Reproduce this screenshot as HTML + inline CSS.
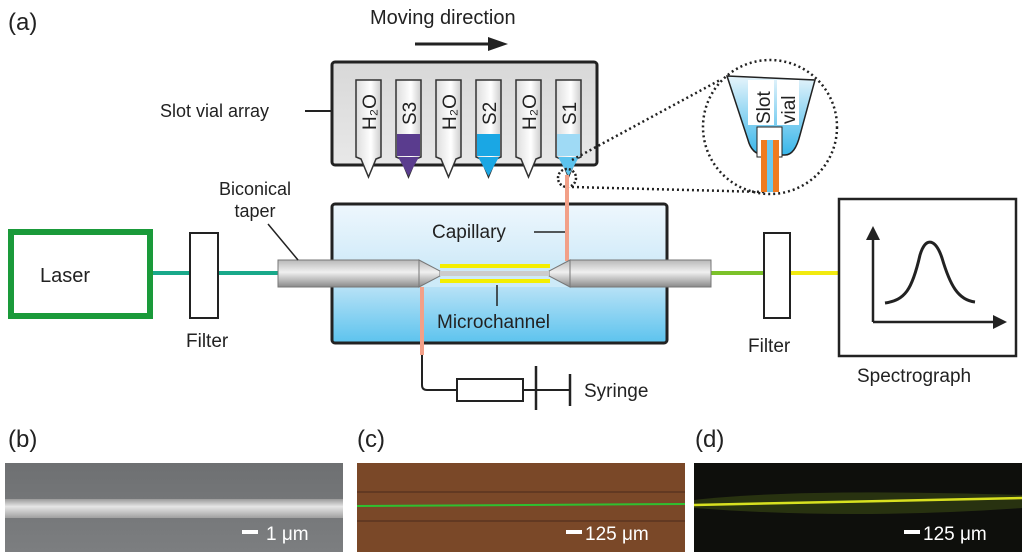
<!DOCTYPE html>
<html><head><meta charset="utf-8"><style>
html,body{margin:0;padding:0;background:#fff;}
svg{display:block;font-family:"Liberation Sans",sans-serif;}
</style></head><body>
<svg width="1024" height="558" viewBox="0 0 1024 558" xmlns="http://www.w3.org/2000/svg">
<defs>
<linearGradient id="gbox" x1="0" y1="0" x2="0" y2="1"><stop offset="0" stop-color="#eef7fd"/><stop offset="0.5" stop-color="#cde9f8"/><stop offset="1" stop-color="#5cc3ee"/></linearGradient>
<linearGradient id="gfib" x1="0" y1="0" x2="0" y2="1"><stop offset="0" stop-color="#b8b8b8"/><stop offset="0.45" stop-color="#f0f0f0"/><stop offset="1" stop-color="#8a8a8a"/></linearGradient>
<linearGradient id="gvial" x1="0" y1="0" x2="1" y2="0"><stop offset="0" stop-color="#ddd"/><stop offset="0.6" stop-color="#fff"/><stop offset="1" stop-color="#ccc"/></linearGradient>
<linearGradient id="gtray" x1="0" y1="0" x2="0" y2="1"><stop offset="0" stop-color="#d8d8d8"/><stop offset="1" stop-color="#e8e8e8"/></linearGradient>
<linearGradient id="gb" x1="0" y1="0" x2="0" y2="1"><stop offset="0" stop-color="#6e7072"/><stop offset="1" stop-color="#7c7e80"/></linearGradient>
<linearGradient id="gbar" x1="0" y1="0" x2="0" y2="1"><stop offset="0" stop-color="#9a9a9a"/><stop offset="0.4" stop-color="#e6e6e6"/><stop offset="1" stop-color="#a0a0a0"/></linearGradient>
<linearGradient id="gmag" x1="0" y1="0" x2="0" y2="1"><stop offset="0" stop-color="#e6f4fb"/><stop offset="1" stop-color="#38b6ea"/></linearGradient>
</defs>

<text x="8" y="30" font-size="24" fill="#222">(a)</text>
<text x="370" y="24" font-size="20" fill="#222">Moving direction</text>
<line x1="415" y1="44" x2="490" y2="44" stroke="#222" stroke-width="3"/>
<polygon points="508,44 488,37 488,51" fill="#222"/>

<!-- tray -->
<rect x="332" y="62" width="265" height="103" rx="3" fill="url(#gtray)" stroke="#222" stroke-width="3"/>
<text x="160" y="117" font-size="18" fill="#222">Slot vial array</text>
<line x1="305" y1="111" x2="333" y2="111" stroke="#222" stroke-width="2"/>

<g font-size="20" fill="#222">
<g id="v">
</g>
</g>
<!-- vials -->
<g stroke="#333" stroke-width="1.5">
<path d="M356,80h25v77l-5,2l-7.5,18l-7.5,-18l-5,-2z" fill="url(#gvial)"/>
<path d="M396,80h25v77l-5,2l-7.5,18l-7.5,-18l-5,-2z" fill="url(#gvial)"/>
<path d="M436,80h25v77l-5,2l-7.5,18l-7.5,-18l-5,-2z" fill="url(#gvial)"/>
<path d="M476,80h25v77l-5,2l-7.5,18l-7.5,-18l-5,-2z" fill="url(#gvial)"/>
<path d="M516,80h25v77l-5,2l-7.5,18l-7.5,-18l-5,-2z" fill="url(#gvial)"/>
<path d="M556,80h25v77l-5,2l-7.5,18l-7.5,-18l-5,-2z" fill="url(#gvial)"/>
</g>
<rect x="397" y="134" width="23" height="22" fill="#5a3c8e"/>
<polygon points="398,157 419,157 408.5,176" fill="#5a3c8e"/>
<rect x="477" y="134" width="23" height="22" fill="#1aa7e4"/>
<polygon points="478,157 499,157 488.5,176" fill="#1aa7e4"/>
<rect x="557" y="134" width="23" height="22" fill="#9fdaf5"/>
<polygon points="558,157 579,157 568.5,176" fill="#5cc3ee"/>
<g font-size="19" fill="#222">
<text transform="translate(376,130) rotate(-90)">H₂O</text>
<text transform="translate(416,125) rotate(-90)">S3</text>
<text transform="translate(456,130) rotate(-90)">H₂O</text>
<text transform="translate(496,125) rotate(-90)">S2</text>
<text transform="translate(536,130) rotate(-90)">H₂O</text>
<text transform="translate(576,125) rotate(-90)">S1</text>
</g>

<!-- magnifier -->
<circle cx="567" cy="178" r="9" fill="none" stroke="#222" stroke-width="2.5" stroke-dasharray="2,2"/>
<line x1="572" y1="160" x2="720" y2="80" stroke="#222" stroke-width="2.5" stroke-dasharray="2,3"/>
<line x1="572" y1="187" x2="765" y2="192" stroke="#222" stroke-width="2.5" stroke-dasharray="2,3"/>
<path d="M727,76 L815,80 L800,135 Q795,155 785,155 L765,155 Q752,155 748,140 Z" fill="url(#gmag)" stroke="#222" stroke-width="1.5"/>
<rect x="757" y="127" width="25" height="30" fill="#fff" stroke="#222" stroke-width="1"/>
<rect x="761" y="140" width="6" height="52" fill="#f07a1e"/>
<rect x="773" y="140" width="6" height="52" fill="#f07a1e"/>
<rect x="767" y="140" width="6" height="52" fill="#6cc8ee"/>
<circle cx="770" cy="127" r="67" fill="none" stroke="#222" stroke-width="2.5" stroke-dasharray="2,3"/>
<rect x="748" y="80" width="26" height="45" fill="#fff"/>
<rect x="777" y="80" width="22" height="45" fill="#fff"/>
<text transform="translate(770,124) rotate(-90)" font-size="19" fill="#222">Slot</text>
<text transform="translate(795,124) rotate(-90)" font-size="19" fill="#222">vial</text>

<!-- chip box -->
<rect x="332" y="204" width="335" height="139" rx="3" fill="url(#gbox)" stroke="#222" stroke-width="3"/>
<rect x="419" y="260" width="151" height="27" fill="#cdeaf8"/>
<!-- capillaries -->
<rect x="565" y="175" width="4" height="86" fill="#f2a088"/>
<rect x="420" y="287" width="4" height="68" fill="#f2a088"/>
<path d="M422,355 V385 Q422,390 427,390 H457" fill="none" stroke="#222" stroke-width="2"/>
<rect x="457" y="379" width="66" height="22" fill="#fff" stroke="#222" stroke-width="2"/>
<line x1="523" y1="379" x2="523" y2="401" stroke="#222" stroke-width="2"/>
<line x1="523" y1="390" x2="570" y2="390" stroke="#222" stroke-width="2"/>
<line x1="536" y1="366" x2="536" y2="410" stroke="#222" stroke-width="2.5"/>
<line x1="570" y1="374" x2="570" y2="406" stroke="#222" stroke-width="2.5"/>
<text x="584" y="397" font-size="19" fill="#222">Syringe</text>

<!-- fibers -->
<line x1="150" y1="273" x2="278" y2="273" stroke="#19a98a" stroke-width="4"/>
<line x1="711" y1="273" x2="764" y2="273" stroke="#7cc22a" stroke-width="4"/>
<line x1="790" y1="273" x2="838" y2="273" stroke="#f2ea10" stroke-width="4"/>
<rect x="278" y="260" width="141" height="27" fill="url(#gfib)" stroke="#777" stroke-width="1"/>
<rect x="570" y="260" width="141" height="27" fill="url(#gfib)" stroke="#777" stroke-width="1"/>
<polygon points="419,260 440,271 440,276 419,287" fill="url(#gfib)" stroke="#777"/>
<polygon points="570,260 549,271 549,276 570,287" fill="url(#gfib)" stroke="#777"/>
<rect x="440" y="271" width="109" height="5" fill="#ccc"/>
<rect x="440" y="264" width="110" height="4" fill="#f4ee00"/>
<rect x="440" y="279" width="110" height="4" fill="#f4ee00"/>
<text x="432" y="238" font-size="19" fill="#222">Capillary</text>
<line x1="534" y1="232" x2="565" y2="232" stroke="#222" stroke-width="1.5"/>
<line x1="497" y1="285" x2="497" y2="306" stroke="#222" stroke-width="1.5"/>
<text x="437" y="328" font-size="19" fill="#222">Microchannel</text>
<text x="255" y="195" font-size="18" fill="#222" text-anchor="middle">Biconical</text>
<text x="255" y="217" font-size="18" fill="#222" text-anchor="middle">taper</text>
<line x1="268" y1="224" x2="298" y2="260" stroke="#222" stroke-width="1.5"/>

<!-- laser -->
<rect x="11" y="232" width="139" height="84" fill="#fff" stroke="#1a9a3a" stroke-width="6"/>
<text x="40" y="282" font-size="20" fill="#222">Laser</text>
<rect x="190" y="233" width="28" height="85" fill="#fff" stroke="#222" stroke-width="2"/>
<text x="186" y="347" font-size="19" fill="#222">Filter</text>
<rect x="764" y="233" width="26" height="85" fill="#fff" stroke="#222" stroke-width="2"/>
<text x="748" y="352" font-size="19" fill="#222">Filter</text>

<!-- spectrograph -->
<rect x="839" y="199" width="177" height="157" fill="#fff" stroke="#222" stroke-width="2.5"/>
<line x1="873" y1="322" x2="873" y2="238" stroke="#222" stroke-width="2.5"/>
<polygon points="873,226 866,240 880,240" fill="#222"/>
<line x1="873" y1="322" x2="995" y2="322" stroke="#222" stroke-width="2.5"/>
<polygon points="1007,322 993,315 993,329" fill="#222"/>
<path d="M885,303 C905,300 912,290 920,255 C926,235 936,240 942,258 C950,285 958,300 975,302" fill="none" stroke="#222" stroke-width="3"/>
<text x="857" y="382" font-size="19" fill="#222">Spectrograph</text>

<!-- bottom -->
<text x="8" y="447" font-size="24" fill="#222">(b)</text>
<text x="357" y="447" font-size="24" fill="#222">(c)</text>
<text x="695" y="447" font-size="24" fill="#222">(d)</text>
<rect x="5" y="463" width="338" height="89" fill="url(#gb)"/>
<rect x="5" y="499" width="338" height="19" fill="url(#gbar)"/>
<rect x="242" y="530" width="16" height="4" fill="#fff"/>
<text x="266" y="540" font-size="19" fill="#fff">1 μm</text>
<rect x="357" y="463" width="328" height="89" fill="#7a4828"/>
<line x1="357" y1="492" x2="685" y2="492" stroke="#5a3420" stroke-width="1.5"/>
<line x1="357" y1="521" x2="685" y2="521" stroke="#5a3420" stroke-width="1.5"/>
<line x1="357" y1="506" x2="685" y2="504" stroke="#2fc030" stroke-width="2"/>
<rect x="566" y="530" width="16" height="4" fill="#fff"/>
<text x="585" y="540" font-size="19" fill="#fff">125 μm</text>
<rect x="694" y="463" width="328" height="89" fill="#0e0f0c"/>
<path d="M694,500 Q800,488 1022,495 L1022,508 Q850,520 694,508 Z" fill="#3a4a14" opacity="0.6"/>
<line x1="694" y1="505" x2="1022" y2="498" stroke="#d8e020" stroke-width="2.5"/>
<rect x="904" y="530" width="16" height="4" fill="#fff"/>
<text x="923" y="540" font-size="19" fill="#fff">125 μm</text>
</svg>
</body></html>
